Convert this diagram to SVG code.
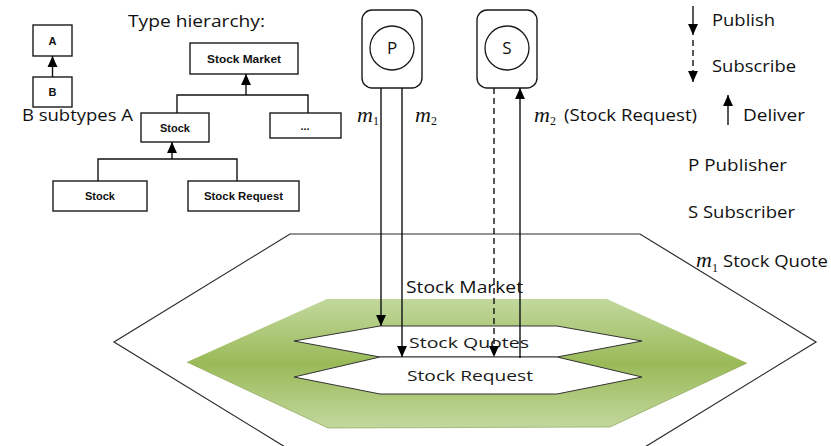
<svg xmlns="http://www.w3.org/2000/svg" width="831" height="446" viewBox="0 0 831 446">
  <style>
    .txt { font-family: "Open Sans", "Liberation Sans", sans-serif; font-size: 17px; fill: #111; }
    .bx { fill: #fff; stroke: #1a1a1a; stroke-width: 1.4; }
    .bxt { font-family: "Liberation Sans", "Open Sans", sans-serif; font-weight: 700; font-size: 11px; fill: #111; text-anchor: middle; }
    .ln { fill: none; stroke: #111; stroke-width: 1.4; }
    .dash { stroke-dasharray: 6 4; }
    .mv { font-family: "Liberation Serif", serif; font-style: italic; font-size: 22px; fill: #111; }
    .sb { font-family: "Liberation Serif", serif; font-size: 12px; fill: #111; }
    .hex { fill: #fff; stroke: #2a2a2a; stroke-width: 1.2; }
    .inner { fill: #fff; stroke: #333; stroke-width: 1; }
    .htxt { font-family: "Open Sans", "Liberation Sans", sans-serif; font-size: 15px; fill: #1a1a1a; }
  </style>
  <defs>
    <marker id="headL" viewBox="0 0 10 10" refX="10" refY="5" markerWidth="11" markerHeight="11" markerUnits="userSpaceOnUse" orient="auto">
      <path d="M0,0.5 L10,5 L0,9.5 Z" fill="#000"/>
    </marker>
    <linearGradient id="green" x1="0" y1="299" x2="0" y2="428" gradientUnits="userSpaceOnUse">
      <stop offset="0" stop-color="#c2d89e"/>
      <stop offset="0.5" stop-color="#9aba58"/>
      <stop offset="1" stop-color="#c2d89e"/>
    </linearGradient>
  </defs>

  <!-- outer market hexagon -->
  <g id="market-outer">
    <polygon class="hex" points="290,234 640,234 816,342 640,450 290,450 114,342"/>
    <text class="txt" x="406" y="293" textLength="117" lengthAdjust="spacingAndGlyphs">Stock Market</text>
  </g>

  <!-- green band -->
  <g id="market-band">
    <polygon points="327,299 607,299 747,363 610,427 328,428 187,362" fill="url(#green)"/>
    <path d="M747,363 L610,427 L328,428 L187,362" fill="none" stroke="#7f9a45" stroke-width="1" opacity="0.6"/>
  </g>

  <!-- topics -->
  <g id="topic-quotes">
    <polygon class="inner" points="380,326 557,326 642,341 557,357 380,357 294,341"/>
    <text class="htxt" x="409" y="348" textLength="120" lengthAdjust="spacingAndGlyphs">Stock Quotes</text>
  </g>
  <g id="topic-request">
    <polygon class="inner" points="380,357 557,357 642,377 557,394 380,394 294,377"/>
    <text class="htxt" x="407" y="381" textLength="126" lengthAdjust="spacingAndGlyphs">Stock Request</text>
  </g>

  <!-- subtype example -->
  <g id="node-A">
    <rect class="bx" x="33" y="25" width="39" height="31"/>
    <text class="bxt" x="52.5" y="45">A</text>
  </g>
  <g id="node-B">
    <rect class="bx" x="33" y="77" width="39" height="30"/>
    <text class="bxt" x="52.5" y="96">B</text>
  </g>
  <text class="txt" x="22" y="121" textLength="111" lengthAdjust="spacingAndGlyphs">B subtypes A</text>

  <!-- type hierarchy -->
  <text class="txt" x="128" y="27" textLength="137" lengthAdjust="spacingAndGlyphs">Type hierarchy:</text>
  <g id="node-stock-market">
    <rect class="bx" x="190" y="43" width="108" height="31"/>
    <text class="bxt" x="244" y="62.5" textLength="74" lengthAdjust="spacingAndGlyphs">Stock Market</text>
  </g>
  <g id="node-stock">
    <rect class="bx" x="141" y="113" width="68" height="29"/>
    <text class="bxt" x="175" y="131.5">Stock</text>
  </g>
  <g id="node-other">
    <rect class="bx" x="270" y="113" width="71" height="25"/>
    <text class="bxt" x="305" y="130">...</text>
  </g>
  <g id="node-stock-leaf">
    <rect class="bx" x="53" y="181" width="94" height="30"/>
    <text class="bxt" x="100" y="200">Stock</text>
  </g>
  <g id="node-stock-request">
    <rect class="bx" x="188" y="181" width="111" height="30"/>
    <text class="bxt" x="243.5" y="200" textLength="79" lengthAdjust="spacingAndGlyphs">Stock Request</text>
  </g>

  <!-- publisher / subscriber -->
  <g id="node-P">
    <rect class="bx" x="362" y="10" width="60" height="78" rx="10"/>
    <circle cx="392" cy="48" r="22" fill="#fff" stroke="#1a1a1a" stroke-width="1.3"/>
    <text class="txt" x="392" y="54" text-anchor="middle">P</text>
  </g>
  <g id="node-S">
    <rect class="bx" x="477" y="10" width="60" height="78" rx="10"/>
    <circle cx="507" cy="48" r="22" fill="#fff" stroke="#1a1a1a" stroke-width="1.3"/>
    <text class="txt" x="507" y="54" text-anchor="middle">S</text>
  </g>

  <g id="connectors">
    <!-- subtype arrows -->
    <line class="ln" x1="52.5" y1="77" x2="52.5" y2="56" marker-end="url(#headL)"/>
    <polyline class="ln" points="177,113 177,95 308,95 308,113"/>
    <line class="ln" x1="246" y1="95" x2="246" y2="74" marker-end="url(#headL)"/>
    <polyline class="ln" points="98,181 98,159 237,159 237,181"/>
    <line class="ln" x1="172" y1="159" x2="172" y2="142" marker-end="url(#headL)"/>

    <!-- publish / subscribe / deliver -->
    <line class="ln" x1="381" y1="88" x2="381" y2="326" marker-end="url(#headL)"/>
    <line class="ln" x1="402" y1="88" x2="402" y2="357" marker-end="url(#headL)"/>
    <line class="ln dash" x1="494" y1="88" x2="494" y2="357" marker-end="url(#headL)"/>
    <line class="ln" x1="520" y1="358" x2="520" y2="88" marker-end="url(#headL)"/>
  </g>

  <!-- message labels -->
  <g id="labels">
    <text class="mv" x="357" y="122">m</text><text class="sb" x="373" y="125">1</text>
    <text class="mv" x="415" y="122">m</text><text class="sb" x="431" y="125">2</text>
    <text class="mv" x="534" y="122">m</text><text class="sb" x="550" y="125">2</text>
    <text class="txt" x="564" y="121" textLength="133" lengthAdjust="spacingAndGlyphs">(Stock Request)</text>
  </g>

  <!-- legend -->
  <g id="legend">
    <line class="ln" x1="693" y1="6" x2="693" y2="35" marker-end="url(#headL)"/>
    <text class="txt" x="712" y="26" textLength="63" lengthAdjust="spacingAndGlyphs">Publish</text>
    <line class="ln dash" x1="693" y1="40" x2="693" y2="82" marker-end="url(#headL)"/>
    <text class="txt" x="712" y="72" textLength="84" lengthAdjust="spacingAndGlyphs">Subscribe</text>
    <line class="ln" x1="728" y1="125" x2="728" y2="95" marker-end="url(#headL)"/>
    <text class="txt" x="743" y="121" textLength="62" lengthAdjust="spacingAndGlyphs">Deliver</text>
    <text class="txt" x="688" y="171" textLength="99" lengthAdjust="spacingAndGlyphs">P Publisher</text>
    <text class="txt" x="688" y="218" textLength="107" lengthAdjust="spacingAndGlyphs">S Subscriber</text>
    <text class="mv" x="696" y="267">m</text><text class="sb" x="712" y="272">1</text>
    <text class="txt" x="723" y="267" textLength="105" lengthAdjust="spacingAndGlyphs">Stock Quote</text>
  </g>
</svg>
